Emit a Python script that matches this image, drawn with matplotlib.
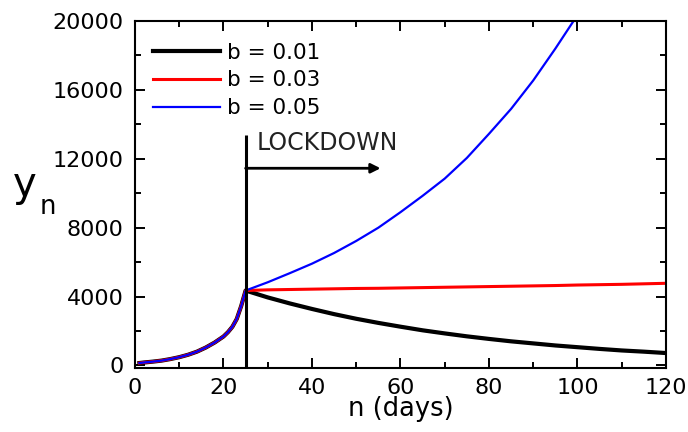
# -*- coding: utf-8 -*-
"""Lockdown scenarios: y_n vs n (days) for three values of b."""

from matplotlib import pyplot as plt

plt.rcParams['font.family'] = ['DejaVu Sans']

# common growth phase before the lockdown (days 1..25)
growth_days = [1, 2, 4, 6, 8, 10, 12, 14, 16, 18, 20, 21, 22, 23, 24, 25]
growth_cases = [140, 170, 220, 280, 370, 480, 620, 800, 1040, 1330, 1680,
                1930, 2240, 2700, 3450, 4350]

# after the lockdown
after_days = [30, 35, 40, 45, 50, 55, 60, 65, 70, 75, 80, 85, 90, 95, 100,
              105, 110, 115, 120]
cases_b001 = [3950, 3600, 3280, 2980, 2710, 2470, 2250, 2040, 1860, 1690,
              1540, 1400, 1280, 1160, 1060, 960, 870, 800, 720]
cases_b003 = [4390, 4410, 4430, 4450, 4470, 4480, 4500, 4520, 4540, 4560,
              4580, 4600, 4620, 4640, 4670, 4690, 4710, 4740, 4770]
cases_b005 = [4830, 5360, 5910, 6530, 7230, 8000, 8900, 9850, 10850, 12050,
              13450, 14900, 16550, 18400, 20350, 22700, 25200, 28000, 31000]

labels = ['b = 0.01', 'b = 0.03', 'b = 0.05']
colors = ['black', 'red', 'blue']
widths = [3.0, 2.2, 1.6]

lockdown_day = 25
lockdown_top = 13400
arrow_y = 11450
arrow_end = 55.5

fig = plt.figure(figsize=(6.88, 4.32), dpi=100)
ax = fig.add_axes([0.1962, 0.1481, 0.7718, 0.8032])

for branch, lab, col, lw in zip([cases_b001, cases_b003, cases_b005],
                                labels, colors, widths):
    ax.plot(growth_days + after_days, growth_cases + branch,
            color=col, lw=lw, label=lab)

ax.set_xlim(0, 120)
ax.set_ylim(-150, 20000)
ax.set_xticks(range(0, 121, 20))
ax.set_xticks(range(0, 121, 10), minor=True)
ax.set_yticks(range(0, 20001, 4000))
ax.set_yticks(range(0, 20001, 2000), minor=True)

ax.tick_params(which='both', direction='in', top=True, right=True,
               labelsize=16, width=1.4)
ax.tick_params(which='major', length=7.5)
ax.tick_params(which='minor', length=4)
ax.tick_params(axis='x', pad=7)
ax.tick_params(axis='y', pad=8)
for sp in ax.spines.values():
    sp.set_linewidth(1.5)

# lockdown marker
ax.vlines(lockdown_day, -150, lockdown_top, color='black', lw=2.2)
ax.annotate('', xy=(arrow_end, arrow_y), xytext=(lockdown_day, arrow_y),
            arrowprops=dict(arrowstyle='-|>', lw=2, color='black',
                            mutation_scale=14, shrinkA=0, shrinkB=0))
ax.text(27.4, 12900, 'LOCKDOWN', fontsize=17, va='center', ha='left',
        color='#222222')

ax.set_xlabel('n (days)', fontsize=18.5, labelpad=-1)

# y_n label drawn as two pieces (upright, subscript lowered)
fig.text(13 / 688, 1 - 196 / 432, 'y', fontsize=29, ha='left',
         va='baseline')
fig.text(40 / 688, 1 - 214 / 432, 'n', fontsize=18.5, ha='left',
         va='baseline')

ax.legend(loc='upper left', bbox_to_anchor=(0.034, 0.938), frameon=False,
          fontsize=15.5, handlelength=3.1, handletextpad=0.33,
          labelspacing=0.36, borderpad=0, borderaxespad=0)

fig.savefig('out.png', dpi=100)
